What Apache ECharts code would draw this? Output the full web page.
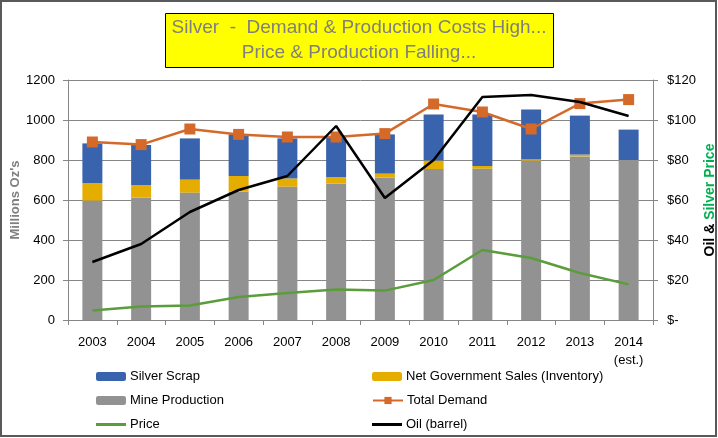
<!DOCTYPE html>
<html>
<head>
<meta charset="utf-8">
<script src="https://cdn.jsdelivr.net/npm/echarts@6/dist/echarts.min.js"></script>
<style>
html,body{margin:0;padding:0;background:#fff;}
#c{width:718px;height:438px;}
</style>
</head>
<body>
<div id="c"></div>
<script>
var years = ['2003','2004','2005','2006','2007','2008','2009','2010','2011','2012','2013','2014\n(est.)'];
var mineProduction = [597, 613, 637, 643, 667, 683, 713, 755, 757, 797, 818, 800];
var govSales = [88, 62, 65, 77, 41, 32, 19, 42, 13, 5, 9, 0];
var silverScrap = [198, 200, 206, 208, 200, 198, 196, 231, 258, 251, 195, 152];
var totalDemand = [890, 877, 955, 928, 915, 915, 932, 1080, 1040, 955, 1082, 1102];
var silverPrice = [4.8, 6.7, 7.2, 11.5, 13.5, 15.2, 14.7, 20.0, 35.0, 31.0, 23.5, 17.8];
var oilPrice = [29, 38, 54, 65, 72, 97, 61, 80, 111.5, 112.5, 109, 102];
var titleLines = ['Silver  -  Demand & Production Costs High...', 'Price & Production Falling...'];

var FONT = '"Liberation Sans", Arial, sans-serif';
var chart = echarts.init(document.getElementById('c'), null, {renderer: 'canvas'});
var gridColor = '#868686';

function lg(name, left, top, opts) {
  var o = {
    orient: 'horizontal', left: left, top: top, itemWidth: 30, itemHeight: 9, itemGap: 0,
    padding: 0,
    textStyle: {fontSize: 13, color: '#000', fontFamily: FONT, padding: [0, 0, 0, -1]},
    data: [name]
  };
  if (opts) { for (var k in opts) o[k] = opts[k]; }
  return o;
}

var option = {
  animation: false,
  backgroundColor: '#ffffff',
  textStyle: {fontFamily: FONT},
  grid: {left: 68, right: 65, top: 80, bottom: 118, containLabel: false, outerBoundsMode: 'none'},
  graphic: [
    {type: 'rect', shape: {x: 1, y: 1, width: 715, height: 435}, style: {fill: 'none', stroke: '#595959', lineWidth: 2}, z: 0},
    {type: 'rect', shape: {x: 165.5, y: 13.5, width: 388, height: 54}, style: {fill: '#ffff00', stroke: '#000', lineWidth: 1}, z: 10},
    {type: 'text', x: 359, y: 28, z: 11, style: {text: titleLines[0], fill: '#7f7f7f', font: '19px ' + FONT, textAlign: 'center', textVerticalAlign: 'middle'}},
    {type: 'text', x: 359, y: 53, z: 11, style: {text: titleLines[1], fill: '#7f7f7f', font: '19px ' + FONT, textAlign: 'center', textVerticalAlign: 'middle'}}
  ],
  legend: [
    lg('Silver Scrap', 96, 370),
    lg('Mine Production', 96, 394),
    lg('Price', 96, 418, {itemHeight: 3, icon: 'rect'}),
    lg('Net Government Sales (Inventory)', 372, 370),
    lg('Total Demand', 372, 394),
    lg('Oil (barrel)', 372, 418, {itemHeight: 3, icon: 'rect'})
  ],
  xAxis: {
    type: 'category', data: years,
    axisLine: {show: true, lineStyle: {color: gridColor, width: 1}},
    axisTick: {show: true, length: 5, lineStyle: {color: gridColor}},
    axisLabel: {color: '#000', fontSize: 13, margin: 13, lineHeight: 18, fontFamily: FONT}
  },
  yAxis: [
    {
      type: 'value', min: 0, max: 1200, interval: 200,
      name: "Millions Oz's", nameLocation: 'middle', nameGap: 46, nameRotate: 90, nameMoveOverlap: false,
      nameTextStyle: {color: '#7f7f7f', fontWeight: 'bold', fontSize: 13, fontFamily: FONT},
      axisLine: {show: true, lineStyle: {color: gridColor}},
      axisTick: {show: true, length: 5, lineStyle: {color: gridColor}},
      axisLabel: {color: '#000', fontSize: 13, margin: 13, fontFamily: FONT,
        formatter: function (v) { return String(v); }},
      splitLine: {show: true, lineStyle: {color: gridColor, width: 1}}
    },
    {
      type: 'value', min: 0, max: 120, interval: 20, position: 'right',
      name: '{a|Oil & }{b|Silver Price}', nameLocation: 'middle', nameGap: 50, nameRotate: 90, nameMoveOverlap: false,
      nameTextStyle: {
        fontWeight: 'bold', fontSize: 14, fontFamily: FONT,
        rich: {
          a: {color: '#000', fontWeight: 'bold', fontSize: 14, fontFamily: FONT},
          b: {color: '#00b050', fontWeight: 'bold', fontSize: 14, fontFamily: FONT}
        }
      },
      axisLine: {show: true, lineStyle: {color: gridColor}},
      axisTick: {show: true, length: 5, lineStyle: {color: gridColor}},
      axisLabel: {
        color: '#000', fontSize: 13, margin: 14, fontFamily: FONT,
        formatter: function (v) { return v === 0 ? '$-' : '$' + v; }
      },
      splitLine: {show: false}
    }
  ],
  series: [
    {name: 'Mine Production', type: 'bar', stack: 's', data: mineProduction, barWidth: 20,
      itemStyle: {color: '#929292'}},
    {name: 'Net Government Sales (Inventory)', type: 'bar', stack: 's', data: govSales, barWidth: 20,
      itemStyle: {color: '#e5ad00'}},
    {name: 'Silver Scrap', type: 'bar', stack: 's', data: silverScrap, barWidth: 20,
      itemStyle: {color: '#3a63ad'}},
    {name: 'Total Demand', type: 'line', data: totalDemand, symbol: 'rect', symbolSize: 11,
      lineStyle: {color: '#d4692a', width: 2.5}, itemStyle: {color: '#d4692a'}, z: 5},
    {name: 'Price', type: 'line', yAxisIndex: 1, data: silverPrice, symbol: 'none',
      lineStyle: {color: '#5b9c3b', width: 2.5}, itemStyle: {color: '#5b9c3b'}, z: 6},
    {name: 'Oil (barrel)', type: 'line', yAxisIndex: 1, data: oilPrice, symbol: 'none',
      lineStyle: {color: '#000', width: 2.5}, itemStyle: {color: '#000'}, z: 7}
  ]
};
chart.setOption(option);
</script>
</body>
</html>
